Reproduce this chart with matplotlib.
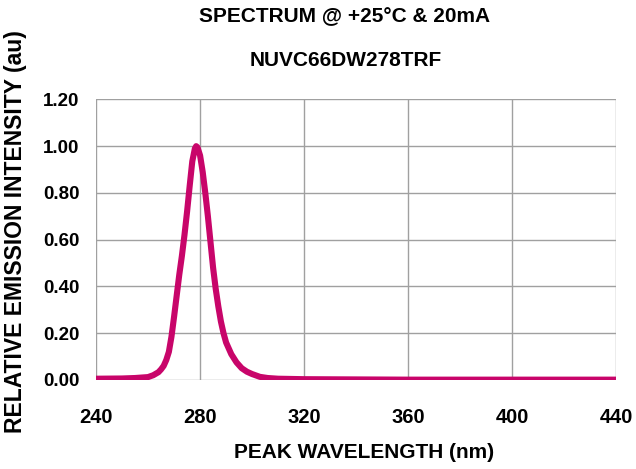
import matplotlib
matplotlib.use("Agg")
import numpy as np
import matplotlib.pyplot as plt

plt.rcParams['font.family'] = ['Liberation Sans', 'DejaVu Sans']
plt.rcParams['font.weight'] = 'bold'

# Spectrum
wavelength = [240, 250, 255, 260, 262, 264, 265, 266, 267, 268, 269, 270, 271,
              272, 273, 274, 275, 276, 277, 278, 278.5, 279, 280, 281, 282, 283,
              284, 285, 286, 287, 288, 289, 290, 292, 294, 296, 298, 300, 303,
              306, 310, 320, 340, 360, 400, 440]
intensity = [0.005, 0.006, 0.008, 0.012, 0.02, 0.033, 0.045, 0.06, 0.085, 0.12,
             0.185, 0.27, 0.36, 0.45, 0.53, 0.62, 0.72, 0.83, 0.935, 0.99, 1.0,
             0.995, 0.96, 0.89, 0.80, 0.70, 0.59, 0.48, 0.39, 0.315, 0.25, 0.20,
             0.16, 0.11, 0.075, 0.05, 0.035, 0.025, 0.013, 0.008, 0.005, 0.003,
             0.002, 0.001, 0.001, 0.001]

x_ticks = [240, 280, 320, 360, 400, 440]
y_ticks = [0.0, 0.2, 0.4, 0.6, 0.8, 1.0, 1.2]

fig = plt.figure(figsize=(6.36, 4.69), dpi=100)
ax = fig.add_axes([0.151, 0.19, 0.818, 0.598])

ax.plot(wavelength, intensity, color='#C8056A', lw=4.4, solid_capstyle='round',
        solid_joinstyle='round', zorder=3)

ax.set_xlim(240, 440)
ax.set_ylim(0, 1.2)
ax.set_xticks(x_ticks)
ax.set_yticks(y_ticks)
ax.set_yticklabels([f"{v:.2f}" for v in y_ticks])
ax.grid(True, color='#a0a0a0', lw=1.0)
for s in ax.spines.values():
    s.set_visible(False)
ax.tick_params(length=0, labelsize=13.5)
ax.tick_params(axis='x', pad=20, labelsize=14.5)
ax.tick_params(axis='y', pad=12)

fig.text(0.541, 0.964, "SPECTRUM @ +25°C & 20mA", ha='center', va='center', fontsize=15, fontweight='bold')
fig.text(0.543, 0.872, "NUVC66DW278TRF", ha='center', va='center', fontsize=15, fontweight='bold')
fig.text(0.572, 0.036, "PEAK WAVELENGTH (nm)", ha='center', va='center', fontsize=15, fontweight='bold')
fig.text(0.025, 0.507, "RELATIVE EMISSION INTENSITY (au)", ha='center', va='center',
         rotation=90, fontsize=16.5, fontweight='bold')

fig.savefig("out.png", dpi=100)
